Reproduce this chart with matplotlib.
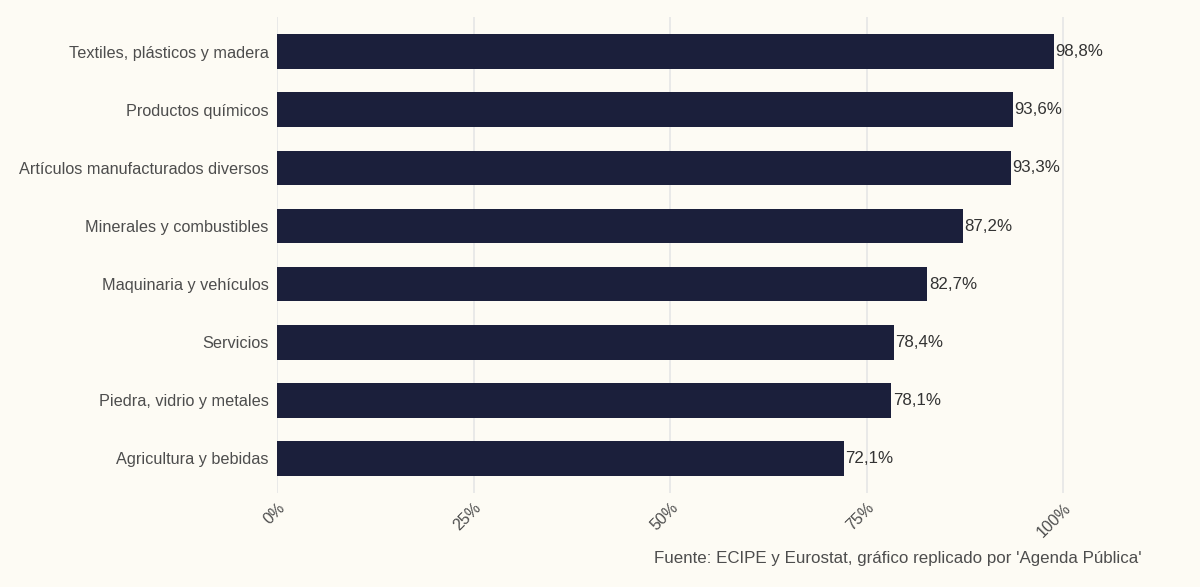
import matplotlib
matplotlib.use("Agg")
import matplotlib.pyplot as plt
import numpy as np

# Data (bottom to top as drawn)
categorias = ['Agricultura y bebidas', 'Piedra, vidrio y metales', 'Servicios',
              'Maquinaria y vehículos', 'Minerales y combustibles',
              'Artículos manufacturados diversos', 'Productos químicos',
              'Textiles, plásticos y madera']
valores = [72.1, 78.1, 78.4, 82.7, 87.2, 93.3, 93.6, 98.8]
ticks_x = [0, 25, 50, 75, 100]
fuente = "Fuente: ECIPE y Eurostat, gráfico replicado por 'Agenda Pública'"

fondo = '#FDFBF4'
color_barra = '#1B1F3B'
color_texto = '#4D4D4D'

plt.rcParams['font.family'] = ['Liberation Sans', 'DejaVu Sans']

fig = plt.figure(figsize=(12, 5.87), dpi=100, facecolor=fondo)
ax = fig.add_axes([0.2308, 0.160, 0.7209, 0.811])
ax.set_facecolor(fondo)

y = np.arange(len(categorias))
ax.barh(y, valores, height=0.6, color=color_barra, zorder=2)
for yi, v in zip(y, valores):
    ax.text(v + 0.2, yi, f"{v:.1f}%".replace('.', ','), va='center', ha='left',
            fontsize=12.2, color='#333333')

ax.set_xlim(0, 110)
ax.set_ylim(-0.6, len(categorias) - 0.4)
ax.set_yticks(y)
ax.set_yticklabels(categorias, fontsize=11.7, color=color_texto)
ax.set_xticks(ticks_x)
ax.set_xticklabels([f"{t}%" for t in ticks_x], rotation=45, ha='right', va='top',
                   rotation_mode='anchor', fontsize=11.5, color=color_texto)
ax.tick_params(length=0, pad=6)
ax.tick_params(axis='x', pad=5)
ax.grid(axis='x', color='#E6E6E6', linewidth=1.2, zorder=0)
for s in ax.spines.values():
    s.set_visible(False)

fig.text(0.951, 0.048, fuente, ha='right', va='center', fontsize=12.2, color=color_texto)

fig.savefig('out.png', dpi=100, facecolor=fondo)
